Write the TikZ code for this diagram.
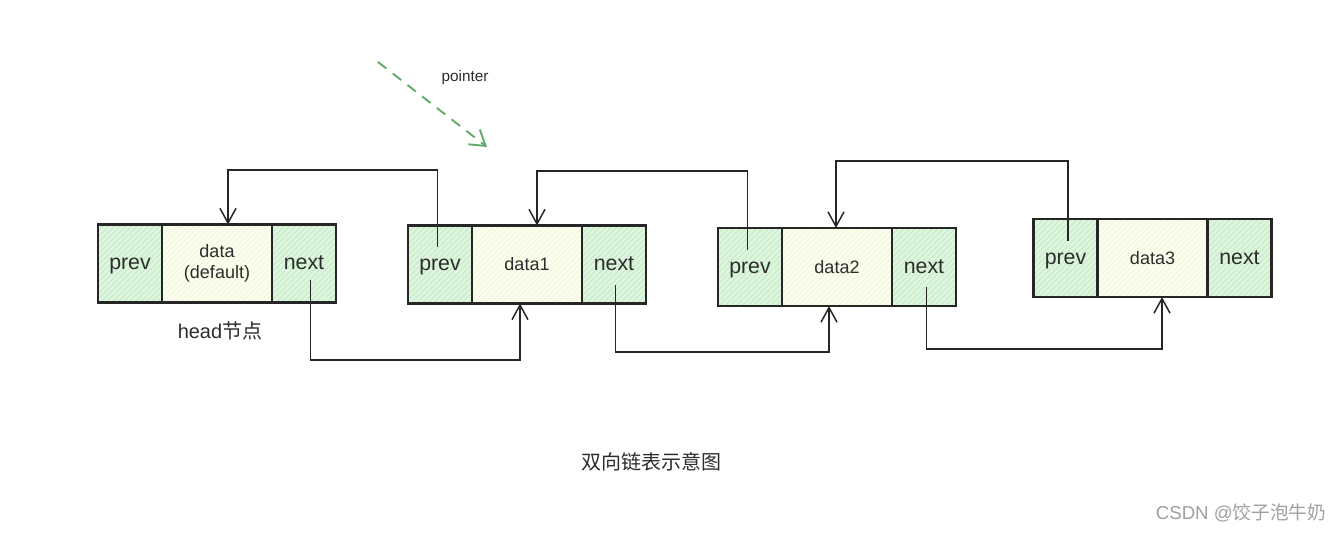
\documentclass[tikz,border=0pt]{standalone}
\usepackage{fontspec}
\setmainfont{Liberation Sans}
\newfontfamily\cjk{Noto Sans CJK SC}
\usetikzlibrary{arrows.meta,patterns.meta,positioning}
\definecolor{cellgreen}{RGB}{222,245,222}
\definecolor{hatchgreen}{RGB}{190,232,192}
\definecolor{cellyellow}{RGB}{251,253,238}
\definecolor{hatchyellow}{RGB}{240,245,215}
\definecolor{txt}{RGB}{45,45,45}
\definecolor{ptrgreen}{RGB}{95,170,105}
\definecolor{wm}{RGB}{160,160,160}
\tikzset{
  cell/.style={draw=black!85, line width=1.6pt, outer sep=0pt, inner sep=0pt,
    minimum height=78*0.75pt, text=txt, align=center},
  pcell/.style={cell, minimum width=64*0.75pt, font=\fontsize{16}{19}\selectfont,
    text height=1.8ex, text depth=0pt,
    preaction={fill=cellgreen},
    pattern={Lines[angle=45,distance=3pt,line width=0.5pt]}, pattern color=hatchgreen},
  dcell/.style={cell, minimum width=110*0.75pt, font=\fontsize{13.5}{17}\selectfont,
    preaction={fill=cellyellow},
    pattern={Lines[angle=45,distance=3pt,line width=0.5pt]}, pattern color=hatchyellow},
  link/.style={draw=black!85, line width=1.2pt,
    -{Straight Barb[length=11pt,width=12pt,line width=1.1pt]}},
  ptr/.style={draw=ptrgreen, line width=1.4pt, dash pattern=on 8pt off 6pt,
    -{Straight Barb[length=11pt,width=14pt,line width=1.4pt]}},
  lbl/.style={text=txt, inner sep=0pt}
}
\begin{document}
\begin{tikzpicture}[x=0.75pt,y=-0.75pt]
\fill[white] (0,0) rectangle (1342,533);
\useasboundingbox (0,0) rectangle (1342,533);

% node 0 (head)
\node[pcell] (prev0) at (130,263.5) {prev};
\node[dcell, right=0pt of prev0] (data0) {data\\[-1pt](default)};
\node[pcell, right=0pt of data0] (next0) {next};
% node 1
\node[pcell] (prev1) at (440,264.5) {prev};
\node[dcell, right=0pt of prev1] (data1) {data1};
\node[pcell, right=0pt of data1] (next1) {next};
% node 2
\node[pcell] (prev2) at (750,267) {prev};
\node[dcell, right=0pt of prev2] (data2) {data2};
\node[pcell, right=0pt of data2] (next2) {next};
% node 3
\node[pcell] (prev3) at (1065.5,258) {prev};
\node[dcell, right=0pt of prev3] (data3) {data3};
\node[pcell, right=0pt of data3] (next3) {next};

% prev links
\coordinate (s1) at ([xshift=-2pt,yshift=13pt]prev1.center);
\coordinate (t1) at (228,170);
\draw[link] (s1) |- (t1) -- (t1 |- data0.north);
\coordinate (s2) at ([xshift=-2pt,yshift=13pt]prev2.center);
\coordinate (t2) at (537,171);
\draw[link] (s2) |- (t2) -- (t2 |- data1.north);
\coordinate (s3) at ([xshift=2pt,yshift=13pt]prev3.center);
\coordinate (t3) at (836,161);
\draw[link] (s3) |- (t3) -- (t3 |- data2.north);

% next links
\coordinate (n0) at ([xshift=5pt,yshift=-12pt]next0.center);
\coordinate (b0) at (520,360);
\draw[link] (n0) |- (b0) -- (b0 |- data1.south);
\coordinate (n1) at ([xshift=1pt,yshift=-15pt]next1.center);
\coordinate (b1) at (829,352);
\draw[link] (n1) |- (b1) -- (b1 |- data2.south);
\coordinate (n2) at ([xshift=2pt,yshift=-15pt]next2.center);
\coordinate (b2) at (1162,349);
\draw[link] (n2) |- (b2) -- (b2 |- data3.south);

% pointer
\coordinate (pa) at (378,62);
\coordinate (pb) at (487,147);
\draw[ptr] (pa) -- (pb);
\node[lbl, font=\fontsize{11.5}{13}\selectfont] (plabel) at (465,78) {pointer};

% labels
\node[lbl, font=\fontsize{15}{17}\selectfont] (headlbl) at (220,331) {head{\cjk 节点}};
\node[lbl, font=\fontsize{15}{17}\selectfont\cjk] (title) at (651,462) {双向链表示意图};
\node[lbl, text=wm, font=\fontsize{14}{16}\selectfont] (wmark) at (1241,513) {CSDN @{\cjk 饺子泡牛奶}};
\end{tikzpicture}
\end{document}
